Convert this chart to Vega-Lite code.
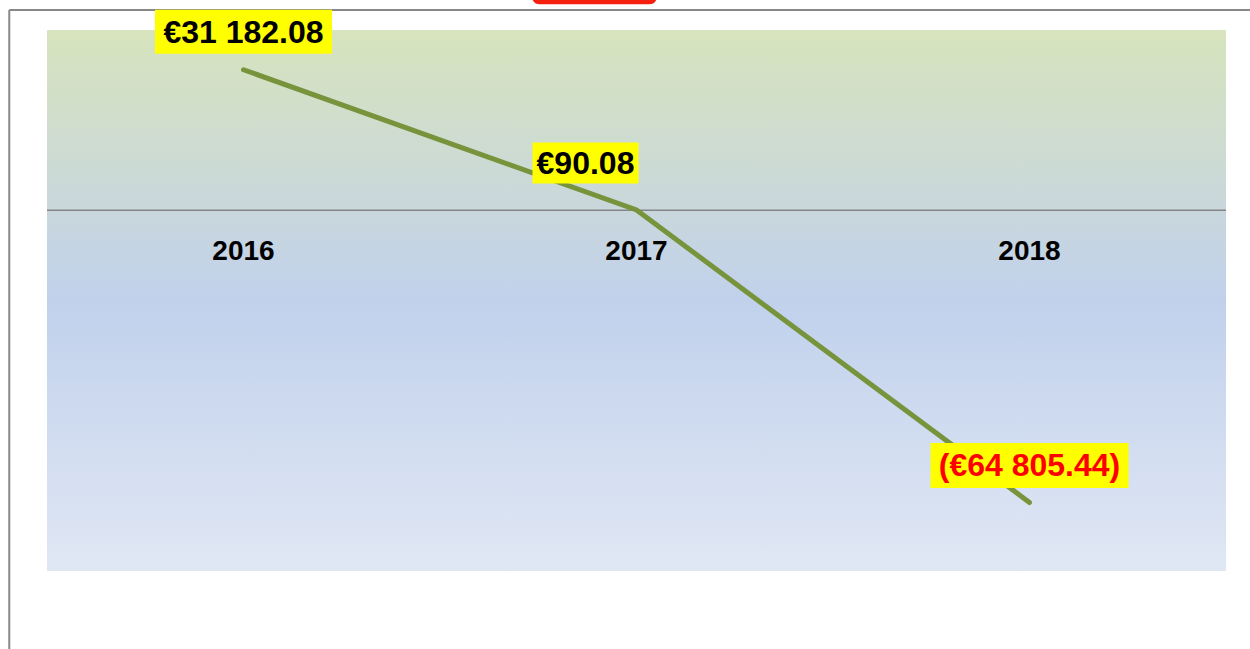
{
  "$schema": "https://vega.github.io/schema/vega-lite/v6.json",
  "width": 1179,
  "height": 541,
  "autosize": {"type": "none"},
  "padding": {"left": 47, "top": 30, "right": 24, "bottom": 78},
  "background": "#ffffff",
  "config": {"view": {"stroke": null}, "font": "Liberation Sans"},
  "datasets": {
    "series": [
      {"year": 2016, "value": 31182.08, "label": "€31 182.08"},
      {"year": 2017, "value": 90.08, "label": "€90.08"},
      {"year": 2018, "value": -64805.44, "label": "(€64 805.44)"}
    ],
    "frame": [{"x0": 2015.404, "x1": 2018.7, "y0": -110000, "y1": 44436}],
    "blob": [{"bx0": 2016.734, "bx1": 2017.052, "by0": 45690, "by1": 49000}]
  },
  "layer": [
    {
      "data": {"name": "frame"},
      "mark": {"type": "rect", "clip": false, "color": {"gradient": "linear", "x1": 0, "y1": 0, "x2": 0, "y2": 1, "stops": [
        {"offset": 0, "color": "#d7e4bd"},
        {"offset": 0.33, "color": "#c9d7dc"},
        {"offset": 0.5, "color": "#c1d1ec"},
        {"offset": 1, "color": "#e0e7f4"}
      ]}},
      "encoding": {
        "x": {"datum": 2015.5, "type": "quantitative", "scale": {"domain": [2015.5, 2018.5], "nice": false, "zero": false}, "axis": null},
        "x2": {"datum": 2018.5},
        "y": {"datum": 40000, "type": "quantitative", "scale": {"domain": [-80000, 40000], "nice": false, "zero": false}, "axis": null},
        "y2": {"datum": -80000}
      }
    },
    {
      "data": {"name": "frame"},
      "mark": {"type": "rule", "clip": false, "color": "#888888", "strokeWidth": 2},
      "encoding": {
        "x": {"field": "x0", "type": "quantitative"},
        "y": {"field": "y1", "type": "quantitative"},
        "y2": {"field": "y0"}
      }
    },
    {
      "data": {"name": "frame"},
      "mark": {"type": "rule", "clip": false, "color": "#888888", "strokeWidth": 2},
      "encoding": {
        "x": {"field": "x0", "type": "quantitative"},
        "x2": {"field": "x1"},
        "y": {"field": "y1", "type": "quantitative"}
      }
    },
    {
      "data": {"name": "blob"},
      "mark": {"type": "rect", "clip": false, "color": "#f52010", "cornerRadius": 10},
      "encoding": {
        "x": {"field": "bx0", "type": "quantitative"},
        "x2": {"field": "bx1"},
        "y": {"field": "by0", "type": "quantitative"},
        "y2": {"field": "by1"}
      }
    },
    {
      "data": {"name": "frame"},
      "mark": {"type": "rule", "color": "#858585", "strokeWidth": 1.5},
      "encoding": {
        "x": {"datum": 2015.5, "type": "quantitative"},
        "x2": {"datum": 2018.5},
        "y": {"datum": 0, "type": "quantitative"}
      }
    },
    {
      "data": {"name": "series"},
      "mark": {"type": "text", "font": "Liberation Sans", "fontWeight": "bold", "fontSize": 28, "color": "#000000", "baseline": "middle", "align": "center", "dy": 42},
      "encoding": {
        "x": {"field": "year", "type": "quantitative"},
        "y": {"datum": 0, "type": "quantitative"},
        "text": {"field": "year", "type": "nominal"}
      }
    },
    {
      "data": {"name": "series"},
      "mark": {"type": "line", "color": "#77933c", "strokeWidth": 5, "strokeCap": "round", "strokeJoin": "miter"},
      "encoding": {
        "x": {"field": "year", "type": "quantitative"},
        "y": {"field": "value", "type": "quantitative"}
      }
    },
    {
      "data": {"name": "series"},
      "transform": [{"filter": "datum.year == 2016"}],
      "layer": [
        {"mark": {"type": "rect", "clip": false, "color": "#ffff00", "width": 177, "height": 44, "yOffset": -38}},
        {"mark": {"type": "text", "clip": false, "font": "Liberation Sans", "fontWeight": "bold", "fontSize": 32, "color": "#000000", "baseline": "middle", "align": "center", "dy": -37}}
      ],
      "encoding": {
        "x": {"field": "year", "type": "quantitative"},
        "y": {"field": "value", "type": "quantitative"},
        "text": {"field": "label", "type": "nominal"}
      }
    },
    {
      "data": {"name": "series"},
      "transform": [{"filter": "datum.year == 2017"}],
      "layer": [
        {"mark": {"type": "rect", "color": "#ffff00", "width": 106, "height": 41, "xOffset": -51, "yOffset": -47}},
        {"mark": {"type": "text", "font": "Liberation Sans", "fontWeight": "bold", "fontSize": 32, "color": "#000000", "baseline": "middle", "align": "center", "dx": -51, "dy": -46}}
      ],
      "encoding": {
        "x": {"field": "year", "type": "quantitative"},
        "y": {"field": "value", "type": "quantitative"},
        "text": {"field": "label", "type": "nominal"}
      }
    },
    {
      "data": {"name": "series"},
      "transform": [{"filter": "datum.year == 2018"}],
      "layer": [
        {"mark": {"type": "rect", "color": "#ffff00", "width": 198, "height": 45, "yOffset": -37}},
        {"mark": {"type": "text", "font": "Liberation Sans", "fontWeight": "bold", "fontSize": 32, "color": "#ff0000", "baseline": "middle", "align": "center", "dy": -36}}
      ],
      "encoding": {
        "x": {"field": "year", "type": "quantitative"},
        "y": {"field": "value", "type": "quantitative"},
        "text": {"field": "label", "type": "nominal"}
      }
    }
  ]
}
